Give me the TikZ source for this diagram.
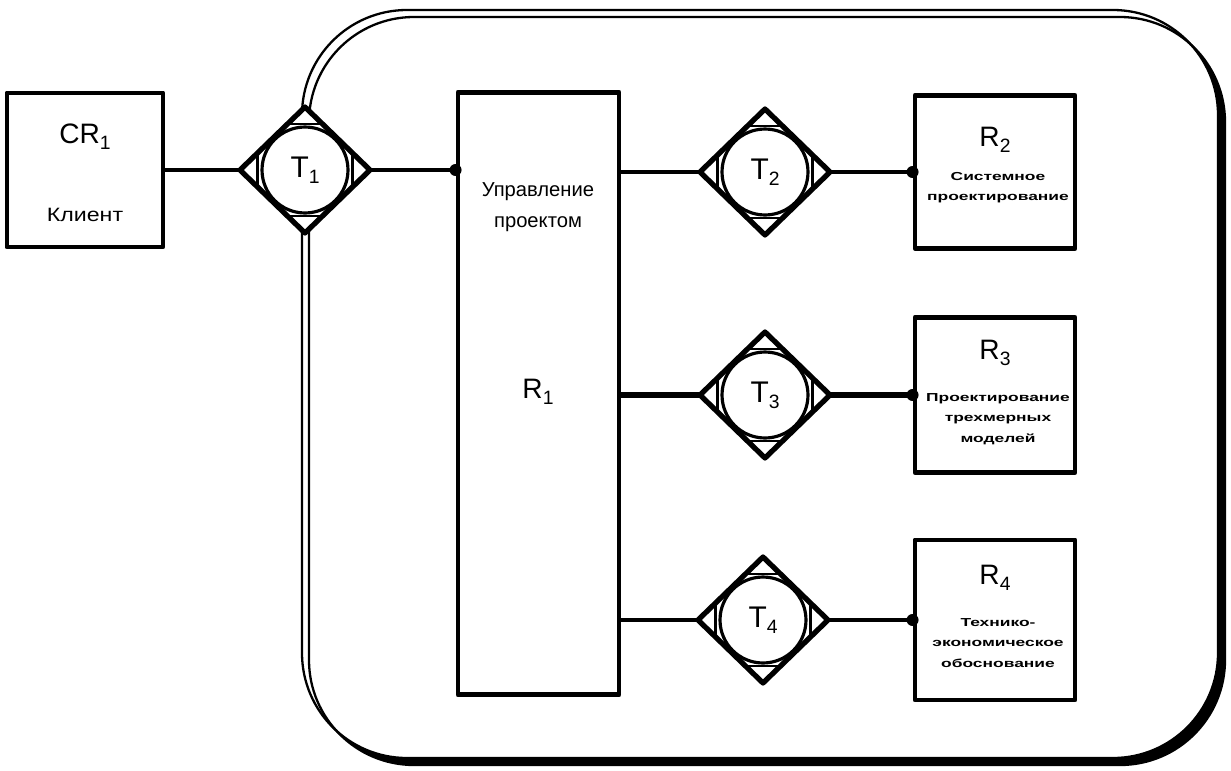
\documentclass[tikz,border=0pt]{standalone}
\usepackage{fontspec}
\setmainfont{Liberation Sans}
\newfontfamily\widefont[FakeStretch=1.2]{Liberation Sans}
\newfontfamily\tinyfont[FakeStretch=1.5]{Liberation Sans}
\usetikzlibrary{shapes.geometric,calc}

\newcommand{\lab}[2]{#1\raisebox{-0.4ex}{\fontsize{11}{11}\selectfont #2}}

\tikzset{
  box/.style={draw, line width=2.8pt, fill=white, inner sep=0pt},
  tnode/.style={draw, diamond, line width=3pt, fill=white, inner sep=0pt, outer sep=0pt,
    minimum width=2.6cm, minimum height=2.52cm, font=\fontsize{17}{20}\selectfont},
  ring/.style={draw, circle, line width=1.8pt, inner sep=0pt, minimum size=1.72cm},
  chord/.style={line width=1.5pt},
  link/.style={line width=2.3pt},
  biglabel/.style={font=\fontsize{16}{19}\selectfont},
  boxtext/.style={align=center, font=\tinyfont\bfseries\fontsize{6.6}{11.5}\selectfont},
  junction/.style={circle, fill=black, inner sep=0pt, minimum size=0.24cm}
}

\begin{document}
\begin{tikzpicture}[x=0.02cm, y=-0.02cm, line cap=round, line join=round]
    \useasboundingbox (0,0) rectangle (1231,771);

    % outer frame with shadow
    \fill[black, rounded corners=2.1cm] (309,17) rectangle (1225,765);
    \fill[white, rounded corners=2.1cm] (302,10) rectangle (1218,758);
    \draw[line width=1.3pt, rounded corners=2.1cm] (302,10) rectangle (1218,758);
    \draw[line width=1.3pt, rounded corners=2.1cm] (309,17) rectangle (1225,765);

    % boxes
    \node[box, minimum width=3.12cm, minimum height=3.08cm] (cr) at (85,170) {};
    \node[box, minimum width=3.22cm, minimum height=12.06cm] (r1) at (538.5,393.5) {};
    \node[box, minimum width=3.2cm, minimum height=3.06cm] (r2) at (995,172) {};
    \node[box, minimum width=3.2cm, minimum height=3.1cm] (r3) at (995,395) {};
    \node[box, minimum width=3.2cm, minimum height=3.2cm] (r4) at (995,620) {};

    % transactions
    \node[tnode] (t1) at (305,170) {\lab{T}{1}};
    \node[tnode] (t2) at (765,172) {\lab{T}{2}};
    \node[tnode] (t3) at (765,395) {\lab{T}{3}};
    \node[tnode] (t4) at (763,620) {\lab{T}{4}};
    \foreach \t in {t1,t2,t3,t4} {
        \node[ring] (\t c) at (\t) {};
        \draw[chord] ($(\t.west)!0.27!(\t.north)$) -- ($(\t.west)!0.27!(\t.south)$);
        \draw[chord] ($(\t.east)!0.27!(\t.north)$) -- ($(\t.east)!0.27!(\t.south)$);
        \draw[chord] ($(\t.north)!0.27!(\t.west)$) -- ($(\t.north)!0.27!(\t.east)$);
        \draw[chord] ($(\t.south)!0.27!(\t.west)$) -- ($(\t.south)!0.27!(\t.east)$);
    }

    % texts
    \node[biglabel] (crlab) at (85,137) {\lab{CR}{1}};
    \node[font=\widefont\fontsize{11}{13}\selectfont] (crtext) at (85,215) {Клиент};
    \node[align=center, font=\fontsize{11.5}{17.6}\selectfont] (r1text) at (538,207) {Управление\\проектом};
    \node[biglabel] (r1lab) at (538,392) {\lab{R}{1}};
    \node[biglabel] (r2lab) at (995,140) {\lab{R}{2}};
    \node[boxtext] (r2text) at (998,188) {Системное\\проектирование};
    \node[biglabel] (r3lab) at (995,353) {\lab{R}{3}};
    \node[boxtext] (r3text) at (998,419) {Проектирование\\трехмерных\\моделей};
    \node[biglabel] (r4lab) at (995,578) {\lab{R}{4}};
    \node[boxtext] (r4text) at (998,643) {Технико-\\экономическое\\обоснование};

    % connectors
    \draw[link] (cr.east |- t1) -- (t1.west);
    \draw[link] (t1.east) -- (r1.west |- t1) node[junction] (d1) {};
    \draw[link] (r1.east |- t2) -- (t2.west);
    \draw[link] (t2.east) -- (r2.west) node[junction] (d2) {};
    \draw[link, line width=3.6pt] (r1.east |- t3) -- (t3.west);
    \draw[link, line width=3.6pt] (t3.east) -- (r3.west) node[junction] (d3) {};
    \draw[link] (r1.east |- t4) -- (t4.west);
    \draw[link] (t4.east) -- (r4.west) node[junction] (d4) {};
\end{tikzpicture}
\end{document}
